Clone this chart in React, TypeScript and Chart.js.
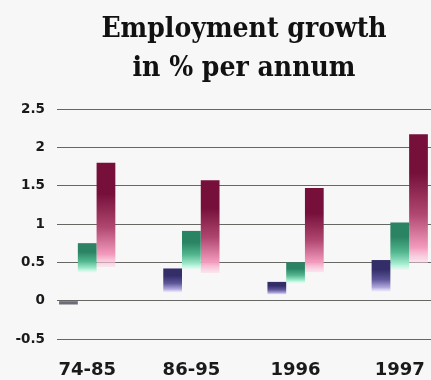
import React, { useEffect, useRef } from "react";
import { Chart, registerables } from "chart.js";

Chart.register(...registerables);

const categories = ["74-85", "86-95", "1996", "1997"];
const yTicks = [-0.5, 0, 0.5, 1, 1.5, 2, 2.5];

// bar top values and the value where each bar fades out
const seriesA = [-0.05, 0.42, 0.245, 0.53];
const seriesAFade = [0, 0.11, 0.08, 0.12];
const seriesB = [0.75, 0.91, 0.5, 1.02];
const seriesBFade = [0.37, 0.41, 0.23, 0.4];
const seriesC = [1.8, 1.57, 1.47, 2.17];
const seriesCFade = [0.44, 0.36, 0.37, 0.49];

const palettes = [
  ["#332d68", "#5d5699", "#b4acdf", "rgba(225,220,248,0.5)"],
  ["#2a8363", "#52b68e", "#a8eed2", "rgba(215,250,236,0.5)"],
  ["#76103a", "#b04770", "#f39bbd", "rgba(252,212,228,0.5)"],
];

function makeData(values: number[], fades: number[]) {
  return values.map((v, i) => ({ x: i, y: [fades[i], v] }));
}

export default function App() {
  const ref = useRef<HTMLCanvasElement>(null);
  useEffect(() => {
    if (!ref.current) return;
    const grad = (pi: number) => (ctx: any) => {
      const p = palettes[pi];
      const chart = ctx.chart;
      if (!chart.chartArea || ctx.type !== "data" || !ctx.raw) return p[0];
      const ys = chart.scales.y;
      const [lo, hi] = ctx.raw.y;
      const top = ys.getPixelForValue(Math.max(lo, hi));
      const bot = ys.getPixelForValue(Math.min(lo, hi));
      if (Math.abs(bot - top) < 6) return "#6d6b7a";
      const g = chart.ctx.createLinearGradient(0, top, 0, bot);
      g.addColorStop(0, p[0]);
      g.addColorStop(0.3, p[0]);
      g.addColorStop(0.62, p[1]);
      g.addColorStop(0.88, p[2]);
      g.addColorStop(1, p[3]);
      return g;
    };
    const chart = new Chart(ref.current, {
      type: "bar",
      data: {
        datasets: [
          { label: "A", data: makeData(seriesA, seriesAFade) as any, backgroundColor: grad(0) as any },
          { label: "B", data: makeData(seriesB, seriesBFade) as any, backgroundColor: grad(1) as any },
          { label: "C", data: makeData(seriesC, seriesCFade) as any, backgroundColor: grad(2) as any },
        ],
      },
      options: {
        animation: false,
        responsive: false,
        events: [],
        layout: { padding: { left: 0, right: 0, top: 0, bottom: 0 } },
        datasets: { bar: { categoryPercentage: 0.54, barPercentage: 1, borderSkipped: false } } as any,
        plugins: {
          legend: { display: false },
          tooltip: { enabled: false },
          title: {
            display: true,
            fullSize: false,
            text: ["Employment growth", "in % per annum"],
            color: "#111",
            font: {
              family: "'DejaVu Serif Condensed', 'DejaVu Serif', serif",
              size: 28,
              weight: "bold",
              lineHeight: 1.393,
            },
            padding: { top: 10, bottom: 21 },
          },
        },
        scales: {
          x: {
            type: "linear",
            min: -0.29,
            max: 3.3,
            offset: false,
            grid: { display: false, drawTicks: false },
            border: { display: false },
            afterBuildTicks: (scale: any) => {
              scale.ticks = categories.map((_, i) => ({ value: i }));
            },
            afterFit: (scale: any) => {
              scale.height = 41;
              scale.paddingLeft = 0;
              scale.paddingRight = 0;
            },
            ticks: {
              padding: 21,
              color: "#1a1a1a",
              maxRotation: 0,
              autoSkip: false,
              font: { family: "'DejaVu Sans', sans-serif", size: 18, weight: "bold" },
              callback: (v: any) => categories[Math.round(Number(v))] ?? "",
            },
          },
          y: {
            min: -0.5,
            max: 2.5,
            grid: { color: "#666662", lineWidth: 1, drawTicks: false },
            border: { display: false },
            afterBuildTicks: (scale: any) => {
              scale.ticks = yTicks.map((v) => ({ value: v }));
            },
            afterFit: (scale: any) => {
              scale.width = 57;
              scale.paddingTop = 0;
              scale.paddingBottom = 0;
            },
            ticks: {
              padding: 12,
              color: "#1a1a1a",
              font: { family: "'DejaVu Sans', sans-serif", size: 13.5, weight: "bold" },
              callback: (v: any) => String(v),
            },
          },
        },
      },
    });
    return () => chart.destroy();
  }, []);
  return (
    <div style={{ position: "fixed", left: 0, top: 0, width: 431, height: 380, background: "#f7f7f7" }}>
      <canvas ref={ref} width={431} height={380} style={{ display: "block" }} />
    </div>
  );
}
